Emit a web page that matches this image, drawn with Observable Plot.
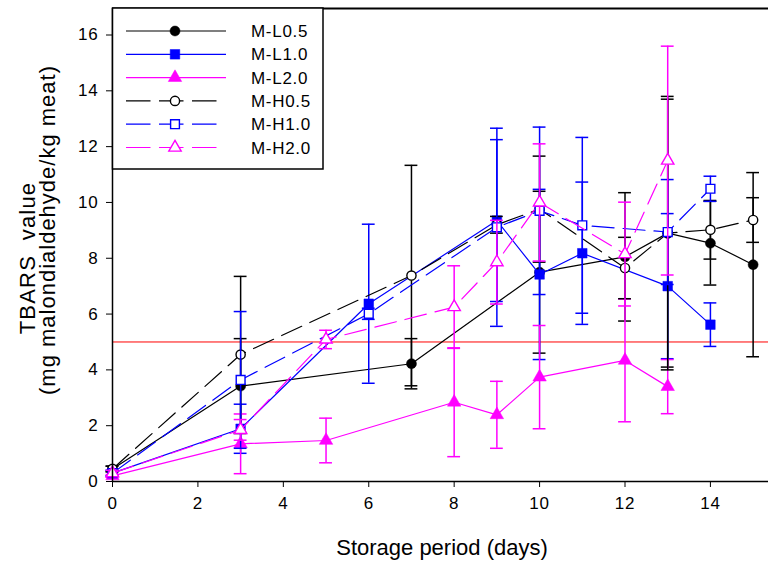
<!DOCTYPE html>
<html><head><meta charset="utf-8">
<script src="https://cdn.jsdelivr.net/npm/d3@7"></script>
<script src="https://cdn.jsdelivr.net/npm/@observablehq/plot@0.6"></script>
<style>
body{margin:0;background:#fff;}
svg{font-family:"Liberation Sans",Arial,sans-serif;}
</style>
</head><body><div id="chart"></div>
<script>
// ---- data ----
const seriesNames = ["M-L0.5","M-L1.0","M-L2.0","M-H0.5","M-H1.0","M-H2.0"];

const daysL05 = [0,3,7,10,12,13,14,15];
const valsL05 = [0.45,3.42,4.22,7.5,8.05,8.9,8.54,7.77];
const errL05  = [0.1,1.7,0.9,2.9,2.3,4.8,1.5,3.3];

const daysL10 = [0,3,6,9,10,11,13,14];
const valsL10 = [0.3,1.89,6.37,9.35,7.42,8.18,7.0,5.62];
const errL10  = [0.1,0.88,2.85,2.9,3.05,2.55,2.6,0.78];

const daysL20 = [0,3,5,8,9,10,12,13];
const valsL20 = [0.2,1.35,1.47,2.84,2.39,3.74,4.34,3.40];
const errL20  = [0.05,1.07,0.8,1.95,1.2,1.85,2.2,0.97];

const daysH05 = [0,3,7,9,10,12,13,14,15];
const valsH05 = [0.45,4.55,7.38,9.2,9.76,7.65,8.9,9.02,9.37];
const errH05  = [0.1,2.8,3.95,0.3,1.9,1.1,4.9,1.05,0.8];

const daysH10 = [0,3,6,9,10,11,13,14];
const valsH10 = [0.3,3.64,6.01,9.11,9.7,9.18,8.94,10.49];
const errH10  = [0.1,2.45,0.2,3.55,3.0,3.15,1.88,0.45];

const daysH20 = [0,3,5,8,9,10,12,13];
const valsH20 = [0.3,1.85,5.09,6.25,7.86,10.0,8.15,11.5];
const errH20  = [0.1,0.37,0.33,1.48,1.5,2.1,1.86,4.1];

const thresholdValue = 5;
const xTicks = [0,2,4,6,8,10,12,14];
const yTicks = [0,2,4,6,8,10,12,14,16];
const xTitle = "Storage period (days)";
const yTitle1 = "TBARS  value";
const yTitle2 = "(mg malondialdehyde/kg meat)";

// ---- styles ----
const styles = {
  "M-L0.5": {color:"#000000", symbol:"circle",   filled:true,  dashed:false},
  "M-L1.0": {color:"#0000ff", symbol:"square",   filled:true,  dashed:false},
  "M-L2.0": {color:"#ff00ff", symbol:"triangle", filled:true,  dashed:false},
  "M-H0.5": {color:"#000000", symbol:"circle",   filled:false, dashed:true},
  "M-H1.0": {color:"#0000ff", symbol:"square",   filled:false, dashed:true},
  "M-H2.0": {color:"#ff00ff", symbol:"triangle", filled:false, dashed:true}
};
const symR = {circle:5, square:5.4, triangle:5.0};

const seriesData = {
  "M-L0.5": [daysL05, valsL05, errL05],
  "M-L1.0": [daysL10, valsL10, errL10],
  "M-L2.0": [daysL20, valsL20, errL20],
  "M-H0.5": [daysH05, valsH05, errH05],
  "M-H1.0": [daysH10, valsH10, errH10],
  "M-H2.0": [daysH20, valsH20, errH20]
};

const rows = [];
for (const s of seriesNames) {
  const [d, v, e] = seriesData[s];
  d.forEach((day, i) => rows.push({series: s, day, value: v[i], err: e[i]}));
}

const capHalf = 0.15;
const marks = [Plot.ruleY([thresholdValue], {stroke:"#ff0000", strokeWidth:1})];
for (const s of seriesNames) {
  const st = styles[s];
  const data = rows.filter(r => r.series === s);
  marks.push(Plot.line(data, {x:"day", y:"value", stroke:st.color, strokeWidth:1.2,
    strokeDasharray: st.dashed ? "22,9" : null}));
  marks.push(Plot.ruleX(data, {x:"day", y1:d => d.value - d.err, y2:d => d.value + d.err, stroke:st.color, strokeWidth:1.5}));
  marks.push(Plot.ruleY(data, {y:d => d.value + d.err, x1:d => d.day - capHalf, x2:d => d.day + capHalf, stroke:st.color, strokeWidth:1.5}));
  marks.push(Plot.ruleY(data, {y:d => d.value - d.err, x1:d => d.day - capHalf, x2:d => d.day + capHalf, stroke:st.color, strokeWidth:1.5}));
  marks.push(Plot.dot(data, {x:"day", y:"value", symbol: st.symbol, r: symR[st.symbol] * (st.filled ? 1 : 0.92),
    fill: st.filled ? st.color : "#ffffff", stroke: st.color, strokeWidth: st.filled ? 0.5 : 1.4}));
}
// axes
marks.push(Plot.axisY({ticks: yTicks, tickSize:6, tickPadding:8, fontSize:17, label:null, tickFormat:d=>String(d)}));
marks.push(Plot.axisX({ticks: xTicks, tickSize:6, tickPadding:9, fontSize:17, label:null, tickFormat:d=>String(d)}));
marks.push(Plot.ruleX([0], {stroke:"#000", strokeWidth:1.5}));
marks.push(Plot.ruleY([0], {stroke:"#000", strokeWidth:1.5}));

const yMax = 16.95;
marks.push(Plot.ruleY([yMax], {stroke:"#000", strokeWidth:2}));

const chart = Plot.plot({
  width: 768, height: 565,
  marginLeft: 112, marginRight: 0, marginTop: 8, marginBottom: 84,
  x: {domain:[0, 15.36]},
  y: {domain:[0, yMax]},
  style: {fontFamily:"Liberation Sans, Arial, sans-serif", color:"#000", background:"#fff", overflow:"visible"},
  marks
});
document.getElementById("chart").appendChild(chart);
d3.select(chart).selectAll("g[aria-label='y-axis tick label'] text, g[aria-label='x-axis tick label'] text")
  .attr("letter-spacing", "0.8px");

// titles and legend
const svg = d3.select(chart);
svg.append("text").attr("x", 442).attr("y", 555).attr("text-anchor","middle")
  .attr("font-size", 22).attr("fill","#000").text(xTitle);
const yt1 = svg.append("g").attr("transform","translate(0,258) rotate(-90)");
yt1.append("text").attr("x",0).attr("y",35).attr("text-anchor","middle").attr("font-size",22)
  .attr("letter-spacing","1.2px").attr("fill","#000").text(yTitle1);
const yt2 = svg.append("g").attr("transform","translate(0,230) rotate(-90)");
yt2.append("text").attr("x",0).attr("y",55).attr("text-anchor","middle").attr("font-size",22)
  .attr("letter-spacing","1px").attr("fill","#000").text(yTitle2);

const lg = svg.append("g");
lg.append("rect").attr("x",112.5).attr("y",8).attr("width",210.5).attr("height",161)
  .attr("fill","#fff").attr("stroke","#000").attr("stroke-width",1.5);
const symMap = {circle:d3.symbolCircle, square:d3.symbolSquare, triangle:d3.symbolTriangle};
seriesNames.forEach((s, i) => {
  const st = styles[s];
  const y = 31 + i * 23.3;
  lg.append("line").attr("x1",126).attr("x2", st.dashed ? 217 : 226).attr("y1",y).attr("y2",y)
    .attr("stroke",st.color).attr("stroke-width",1.2)
    .attr("stroke-dasharray", st.dashed ? "24.5,8.5" : null);
  const r = symR[st.symbol] * (st.filled ? 1 : 0.92);
  lg.append("path").attr("d", d3.symbol(symMap[st.symbol], Math.PI * r * r)())
    .attr("transform",`translate(175,${y})`)
    .attr("fill", st.filled ? st.color : "#fff").attr("stroke", st.color)
    .attr("stroke-width", st.filled ? 0.5 : 1.4);
  lg.append("text").attr("x",251).attr("y",y).attr("dy","0.36em").attr("font-size",17)
    .attr("text-anchor","start").attr("letter-spacing","0.7px").attr("fill","#000").text(s);
});
</script>
</body></html>
